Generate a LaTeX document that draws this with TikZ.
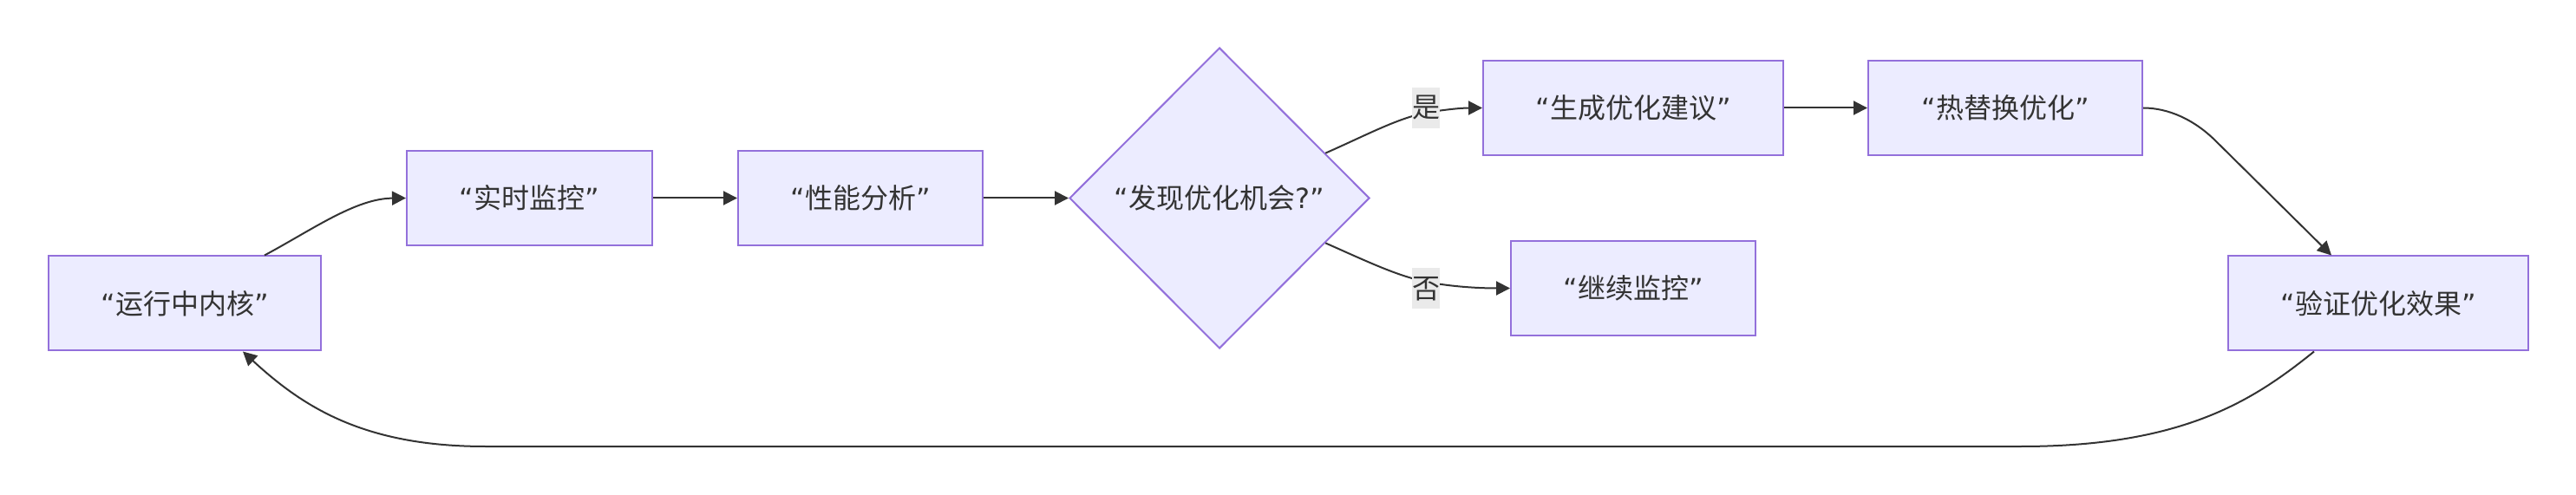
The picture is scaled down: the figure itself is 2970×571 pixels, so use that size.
\documentclass[tikz,border=0pt]{standalone}
\usepackage{fontspec}
\setmainfont{DejaVu Sans}
\newfontfamily\cjk{Noto Sans CJK SC}
\usetikzlibrary{shapes.geometric,arrows.meta}
\definecolor{nodefill}{HTML}{ECECFF}
\definecolor{nodeborder}{HTML}{9370DB}
\definecolor{edgecol}{HTML}{333333}
\definecolor{txtcol}{HTML}{333333}
\definecolor{lblbg}{HTML}{EAEAEA}
\begin{document}
\begin{tikzpicture}[x=0.5pt,y=-0.5pt,
  txt/.style={text=txtcol, font=\fontsize{16}{19}\selectfont},
  box/.style={txt, draw=nodeborder, fill=nodefill, line width=1pt, inner sep=0pt, minimum height=54.5pt},
  dec/.style={txt, diamond, aspect=1, draw=nodeborder, fill=nodefill, line width=1pt, inner sep=0pt, minimum width=173pt, minimum height=173.5pt},
  arr/.style={draw=edgecol, line width=1pt, -{Triangle[length=8pt,width=8pt]}},
  lbl/.style={txt, fill=lblbg, inner sep=0pt, minimum width=16pt, minimum height=23.5pt}]
\useasboundingbox (0,0) rectangle (2970,571);
\node[box, minimum width=157pt] (n1) at (213,350) {“{\cjk 运行中内核}”};
\node[box, minimum width=141.5pt] (n2) at (610.5,228.5) {“{\cjk 实时监控}”};
\node[box, minimum width=141pt] (n3) at (992,228.5) {“{\cjk 性能分析}”};
\node[dec] (d) at (1406,228.5) {“{\cjk 发现优化机会}?”};
\node[box, minimum width=173pt] (n4) at (1883,124.5) {“{\cjk 生成优化建议}”};
\node[box, minimum width=141pt] (n5) at (1883,332.5) {“{\cjk 继续监控}”};
\node[box, minimum width=158pt] (n6) at (2312,124.5) {“{\cjk 热替换优化}”};
\node[box, minimum width=173pt] (n7) at (2742,350) {“{\cjk 验证优化效果}”};
\draw[arr] ([xshift=46pt]n1.north) .. controls (360,265) and (410,229) .. (n2.west);
\draw[arr] (n2.east) -- (n3.west);
\draw[arr] (n3.east) -- (d.west);
\draw[arr] (d.23.5) .. controls (1575,156) and (1610,137) .. (1644,130) .. controls (1675,125) and (1690,124.5) .. (n4.west);
\draw[arr] (d.-23.5) .. controls (1575,301) and (1610,318) .. (1644,325) .. controls (1680,332) and (1715,332.5) .. (n5.west);
\draw[arr] (n4.east) -- (n6.west);
\draw[arr] (n6.east) .. controls (2500,124.5) and (2530,138) .. (2555,163) -- ([xshift=-27pt]n7.north);
\draw[arr] ([xshift=-37pt]n7.south) .. controls (2600,460) and (2520,515) .. (2330,515) -- (560,515) .. controls (420,515) and (350,470) .. ([xshift=33.5pt]n1.south);
\node[lbl] (ly) at (1644,124.5) {\cjk 是};
\node[lbl] (ln) at (1644,333) {\cjk 否};
\end{tikzpicture}
\end{document}
